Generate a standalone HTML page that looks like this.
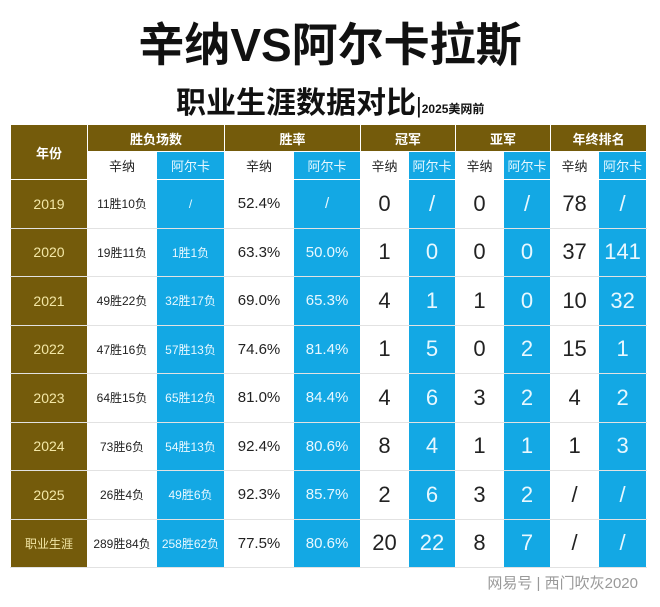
<!DOCTYPE html>
<html><head><meta charset="utf-8"><style>
body{margin:0;width:660px;height:607px;background:#fff;position:relative;overflow:hidden;font-family:"Liberation Sans","Noto Sans CJK SC",sans-serif}
.t1{position:absolute;left:0;width:660px;top:16px;text-align:center;font-size:46px;font-weight:bold;color:#111;letter-spacing:0px;line-height:58px}
.t2{position:absolute;left:176px;top:84px;font-size:30px;font-weight:bold;color:#111;line-height:40px;white-space:nowrap}
.t2 small{font-size:12px;font-weight:bold;vertical-align:baseline}
table{position:absolute;left:10px;top:124px;border-collapse:collapse;table-layout:fixed;width:636px}
td{border:1px solid #fff;text-align:center;padding:0;height:47.5px;color:#222;font-size:22px;overflow:hidden;white-space:nowrap}
tr.h td{height:26px;font-size:13px;font-weight:bold}
tr.s td{height:27px;font-size:13px}
.b{background:#745b0b;color:#f3e7a6}
tr.h .b{color:#fff}
.c{background:#13a8e4;color:#e8f8ff}
.sm{font-size:12px}
.md{font-size:15px}
.y{font-size:14px}
tr.d td{border-bottom:1px solid #e2e2e2}
.wm{position:absolute;right:22px;top:572px;font-size:15px;color:#999}
</style></head><body>
<div class="t1">辛纳VS阿尔卡拉斯</div>
<div class="t2">职业生涯数据对比<span style="font-size:22px;font-weight:normal">|</span><small>2025美网前</small></div>
<table>
<colgroup><col style="width:77px"><col style="width:69px"><col style="width:68px"><col style="width:69px"><col style="width:67px"><col style="width:48px"><col style="width:47px"><col style="width:48px"><col style="width:47px"><col style="width:48px"><col style="width:48px"></colgroup>
<tr class="h"><td class="b" rowspan="2">年份</td><td class="b" colspan="2">胜负场数</td><td class="b" colspan="2">胜率</td><td class="b" colspan="2">冠军</td><td class="b" colspan="2">亚军</td><td class="b" colspan="2">年终排名</td></tr>
<tr class="s"><td>辛纳</td><td class="c">阿尔卡</td><td>辛纳</td><td class="c">阿尔卡</td><td>辛纳</td><td class="c">阿尔卡</td><td>辛纳</td><td class="c">阿尔卡</td><td>辛纳</td><td class="c">阿尔卡</td></tr>
<tr class="d"><td class="b y">2019</td><td class="sm">11胜10负</td><td class="c sm">/</td><td class="md">52.4%</td><td class="c md">/</td><td>0</td><td class="c">/</td><td>0</td><td class="c">/</td><td>78</td><td class="c">/</td></tr>
<tr class="d"><td class="b y">2020</td><td class="sm">19胜11负</td><td class="c sm">1胜1负</td><td class="md">63.3%</td><td class="c md">50.0%</td><td>1</td><td class="c">0</td><td>0</td><td class="c">0</td><td>37</td><td class="c">141</td></tr>
<tr class="d"><td class="b y">2021</td><td class="sm">49胜22负</td><td class="c sm">32胜17负</td><td class="md">69.0%</td><td class="c md">65.3%</td><td>4</td><td class="c">1</td><td>1</td><td class="c">0</td><td>10</td><td class="c">32</td></tr>
<tr class="d"><td class="b y">2022</td><td class="sm">47胜16负</td><td class="c sm">57胜13负</td><td class="md">74.6%</td><td class="c md">81.4%</td><td>1</td><td class="c">5</td><td>0</td><td class="c">2</td><td>15</td><td class="c">1</td></tr>
<tr class="d"><td class="b y">2023</td><td class="sm">64胜15负</td><td class="c sm">65胜12负</td><td class="md">81.0%</td><td class="c md">84.4%</td><td>4</td><td class="c">6</td><td>3</td><td class="c">2</td><td>4</td><td class="c">2</td></tr>
<tr class="d"><td class="b y">2024</td><td class="sm">73胜6负</td><td class="c sm">54胜13负</td><td class="md">92.4%</td><td class="c md">80.6%</td><td>8</td><td class="c">4</td><td>1</td><td class="c">1</td><td>1</td><td class="c">3</td></tr>
<tr class="d"><td class="b y">2025</td><td class="sm">26胜4负</td><td class="c sm">49胜6负</td><td class="md">92.3%</td><td class="c md">85.7%</td><td>2</td><td class="c">6</td><td>3</td><td class="c">2</td><td>/</td><td class="c">/</td></tr>
<tr class="d"><td class="b sm">职业生涯</td><td class="sm">289胜84负</td><td class="c sm">258胜62负</td><td class="md">77.5%</td><td class="c md">80.6%</td><td>20</td><td class="c">22</td><td>8</td><td class="c">7</td><td>/</td><td class="c">/</td></tr>
</table>
<div class="wm">网易号 | 西门吹灰2020</div>
</body></html>
